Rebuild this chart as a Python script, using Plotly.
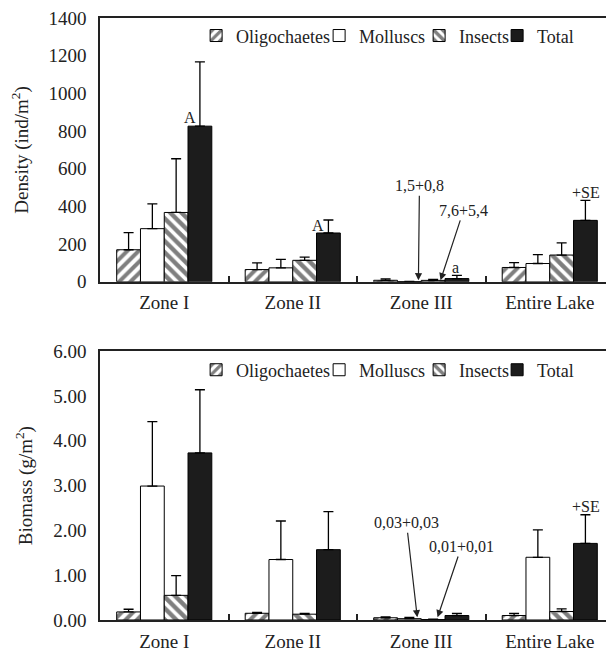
import plotly.graph_objects as go

zones = ["Zone I", "Zone II", "Zone III", "Entire Lake"]
series = ["Oligochaetes", "Molluscs", "Insects", "Total"]

# Density (ind/m2), mean and +SE
dens_oligo = [170, 65, 8, 76]
dens_oligo_se = [91, 35, 8, 26]
dens_moll = [282, 74, 1.5, 97]
dens_moll_se = [132, 45, 0.8, 47]
dens_ins = [368, 114, 7.6, 142]
dens_ins_se = [285, 17, 5.4, 65]
dens_total = [826, 259, 17, 326]
dens_total_se = [341, 69, 17, 106]

# Biomass (g/m2), mean and +SE
bio_oligo = [0.18, 0.15, 0.05, 0.10]
bio_oligo_se = [0.06, 0.02, 0.02, 0.05]
bio_moll = [2.99, 1.35, 0.03, 1.40]
bio_moll_se = [1.44, 0.86, 0.03, 0.61]
bio_ins = [0.55, 0.13, 0.01, 0.19]
bio_ins_se = [0.44, 0.02, 0.01, 0.06]
bio_total = [3.73, 1.57, 0.10, 1.71]
bio_total_se = [1.41, 0.85, 0.05, 0.64]

FONT = "Liberation Serif"
INK = "#222"
styles = {
    "Oligochaetes": dict(color="white", pattern=dict(shape="/", fgcolor="black", bgcolor="white", size=8, solidity=0.5)),
    "Molluscs": dict(color="white"),
    "Insects": dict(color="white", pattern=dict(shape="\\", fgcolor="black", bgcolor="white", size=8, solidity=0.55)),
    "Total": dict(color="#1c1c1c"),
}
legend_widths = {"Oligochaetes": 78, "Molluscs": 55, "Insects": 33, "Total": 40}

fig = go.Figure()

def add(name, vals, se, xa, ya, legend):
    fig.add_trace(go.Bar(
        x=zones, y=vals, name=name, xaxis=xa, yaxis=ya, legend=legend, showlegend=True,
        legendwidth=legend_widths[name],
        marker=dict(line=dict(color="black", width=1), **styles[name]),
        error_y=dict(type="data", symmetric=False, array=se, arrayminus=[0] * len(se),
                     color="black", thickness=1.3, width=5),
    ))

for n, v, s in zip(series, [dens_oligo, dens_moll, dens_ins, dens_total],
                   [dens_oligo_se, dens_moll_se, dens_ins_se, dens_total_se]):
    add(n, v, s, "x", "y", "legend")
for n, v, s in zip(series, [bio_oligo, bio_moll, bio_ins, bio_total],
                   [bio_oligo_se, bio_moll_se, bio_ins_se, bio_total_se]):
    add(n, v, s, "x2", "y2", "legend2")

axis_line = dict(showline=True, linecolor=INK, linewidth=1.5, showgrid=False, zeroline=False)
xcommon = dict(type="category", tickson="boundaries", ticks="inside", ticklen=6, tickwidth=1.5,
               tickcolor=INK, mirror=True, ticklabelstandoff=3,
               tickfont=dict(family=FONT, size=19, color=INK), **axis_line)
ycommon = dict(ticks="", ticklabelstandoff=8, ticklabeloverflow="allow",
               tickfont=dict(family=FONT, size=19, color=INK), **axis_line)

legend_common = dict(orientation="h", xanchor="left", yanchor="middle", x=0.187,
                     font=dict(family=FONT, size=18, color=INK), bgcolor="rgba(0,0,0,0)",
                     itemwidth=30, tracegroupgap=0, traceorder="normal", borderwidth=0)

fig.update_layout(
    width=606, height=648, margin=dict(l=92, r=0, t=5, b=36),
    paper_bgcolor="white", plot_bgcolor="white", barmode="group", bargap=0.26, bargroupgap=0,
    font=dict(family=FONT, size=16, color=INK),
    xaxis=dict(domain=[0, 1], anchor="y", **xcommon),
    yaxis=dict(domain=[0.5618, 1.0], anchor="x", range=[0, 1400], dtick=200,
               title=dict(text="Density (ind/m<sup>2</sup>)", font=dict(family=FONT, size=19, color=INK), standoff=16),
               **ycommon),
    xaxis2=dict(domain=[0, 1], anchor="y2", **xcommon),
    yaxis2=dict(domain=[0, 0.4465], anchor="x2", range=[0, 6], dtick=1, tickformat=".2f",
                title=dict(text="Biomass (g/m<sup>2</sup>)", font=dict(family=FONT, size=19, color=INK), standoff=16),
                **ycommon),
    legend=dict(y=0.9704, **legend_common),
    legend2=dict(y=0.4152, **legend_common),
)

ann_font = dict(family=FONT, size=16, color=INK)
texts = [
    ("x", "y", 0.198, 874, "A"),
    ("x", "y", 1.196, 300, "A"),
    ("x", "y", 2.267, 74, "a"),
    ("x", "y", 3.284, 474, "+SE"),
    ("x2", "y2", 3.28, 2.53, "+SE"),
]
for xr, yr, x, y, t in texts:
    fig.add_annotation(xref=xr, yref=yr, x=x, y=y, text=t, showarrow=False, font=ann_font)

arrows = [
    ("x", "y", 1.978, 8, 1.986, 510, "1,5+0,8"),
    ("x", "y", 2.15, 8, 2.329, 379, "7,6+5,4"),
    ("x2", "y2", 1.969, 0.06, 1.885, 2.17, "0,03+0,03"),
    ("x2", "y2", 2.127, 0.06, 2.313, 1.64, "0,01+0,01"),
]
for xr, yr, x, y, ax, ay, t in arrows:
    fig.add_annotation(xref=xr, yref=yr, x=x, y=y, axref=xr, ayref=yr, ax=ax, ay=ay, text=t,
                       showarrow=True, arrowhead=2, arrowsize=1.2, arrowwidth=1.2, arrowcolor=INK,
                       standoff=0, startstandoff=0, font=ann_font)

fig.write_html("out.html")
